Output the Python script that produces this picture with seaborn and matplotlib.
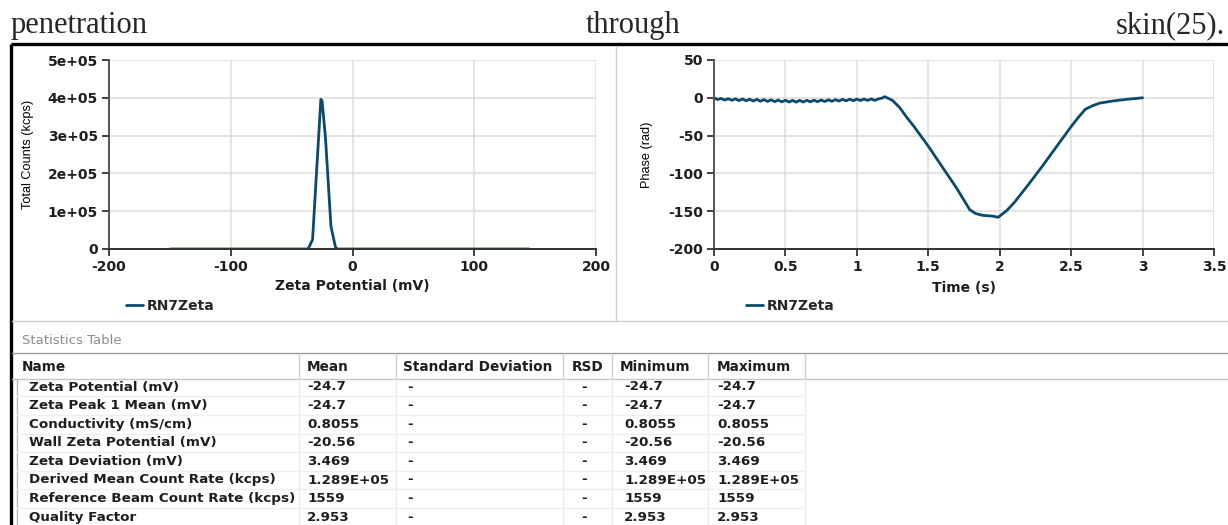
import matplotlib
matplotlib.use("Agg")
import matplotlib.pyplot as plt
import pandas as pd
import seaborn as sns

# --------------------------------------------------------------------------- #
# Data
# --------------------------------------------------------------------------- #

caption_words = ["penetration", "through", "skin(25)."]
series_name = "RN7Zeta"

# zeta potential distribution
zeta_mv = [-150, -100, -50, -36.5, -32.8, -26.0, -25.0, -22.2, -17.7, -14.0,
           -12.5, 0, 50, 100, 145]
zeta_kcps = [0, 0, 0, 0, 2.5e4, 3.96e5, 3.92e5, 2.95e5, 6.0e4, 5.0e3,
             0, 0, 0, 0, 0]

# phase plot
phase_time = [0.000, 0.025, 0.050, 0.075, 0.100, 0.125, 0.150, 0.175,
              0.200, 0.225, 0.250, 0.275, 0.300, 0.325, 0.350, 0.375,
              0.400, 0.425, 0.450, 0.475, 0.500, 0.525, 0.550, 0.575,
              0.600, 0.625, 0.650, 0.675, 0.700, 0.725, 0.750, 0.775,
              0.800, 0.825, 0.850, 0.875, 0.900, 0.925, 0.950, 0.975,
              1.000, 1.025, 1.050, 1.075, 1.100, 1.125, 1.150, 1.175,
              1.195, 1.25, 1.30, 1.35, 1.40, 1.50, 1.60, 1.70, 1.79, 1.83,
              1.88, 1.95, 1.99, 2.05, 2.10, 2.20, 2.30, 2.40, 2.50, 2.55,
              2.60, 2.65, 2.70, 2.80, 2.90, 3.00]
phase_rad = [0.0, -2.3, -0.9, -3.0, -1.2, -3.3, -1.4, -3.6,
             -1.6, -3.9, -1.9, -4.2, -2.1, -4.5, -2.4, -4.8,
             -2.7, -5.1, -3.0, -5.4, -3.2, -5.6, -3.4, -5.7,
             -3.4, -5.6, -3.3, -5.4, -3.1, -5.2, -2.9, -4.9,
             -2.6, -4.6, -2.4, -4.3, -2.1, -4.0, -1.9, -3.8,
             -1.7, -3.6, -1.6, -3.5, -1.5, -3.4, -1.5, -0.5,
             1.5, -3.5, -13, -26, -38, -64, -92, -120, -148, -153,
             -155.5, -156.5, -158, -149, -139, -115, -90, -64, -38, -26,
             -15, -10.5, -7, -4, -1.8, 0]

zeta_xticks = [-200, -100, 0, 100, 200]
zeta_xtick_labels = ["-200", "-100", "0", "100", "200"]
zeta_yticks = [0, 1e5, 2e5, 3e5, 4e5, 5e5]
zeta_ytick_labels = ["0", "1e+05", "2e+05", "3e+05", "4e+05", "5e+05"]
phase_xticks = [0, 0.5, 1, 1.5, 2, 2.5, 3, 3.5]
phase_xtick_labels = ["0", "0.5", "1", "1.5", "2", "2.5", "3", "3.5"]
phase_yticks = [-200, -150, -100, -50, 0, 50]
phase_ytick_labels = ["-200", "-150", "-100", "-50", "0", "50"]

# statistics table
stat_columns = ["Name", "Mean", "Standard Deviation", "RSD", "Minimum", "Maximum"]
stat_names = ["Zeta Potential (mV)", "Zeta Peak 1 Mean (mV)", "Conductivity (mS/cm)",
              "Wall Zeta Potential (mV)", "Zeta Deviation (mV)",
              "Derived Mean Count Rate (kcps)", "Reference Beam Count Rate (kcps)",
              "Quality Factor"]
stat_mean = ["-24.7", "-24.7", "0.8055", "-20.56", "3.469", "1.289E+05", "1559", "2.953"]
stat_sd = ["-", "-", "-", "-", "-", "-", "-", "-"]
stat_rsd = ["-", "-", "-", "-", "-", "-", "-", "-"]
stat_min = ["-24.7", "-24.7", "0.8055", "-20.56", "3.469", "1.289E+05", "1559", "2.953"]
stat_max = ["-24.7", "-24.7", "0.8055", "-20.56", "3.469", "1.289E+05", "1559", "2.953"]

# --------------------------------------------------------------------------- #
# Style
# --------------------------------------------------------------------------- #

W, H = 1228, 525
LINE = "#0b4a6b"
GRID = "#dcdcdc"
TEXT = "#1e1e1e"

sns.set_theme(style="whitegrid")
plt.rcParams["font.family"] = ["DejaVu Sans"]
NARROW = ["Liberation Sans", "DejaVu Sans"]


def style_axes(ax, xticks, xlabels, yticks, ylabels):
    ax.set_xticks(xticks, xlabels, fontweight="bold", color=TEXT, fontsize=10)
    ax.set_yticks(yticks, ylabels, fontweight="bold", color=TEXT, fontsize=10)
    ax.grid(True, color=GRID, linewidth=1.1)
    ax.spines["top"].set_visible(False)
    ax.spines["right"].set_visible(False)
    ax.spines["left"].set_color("#555555")
    ax.spines["bottom"].set_color("#333333")
    ax.spines["left"].set_linewidth(1.4)
    ax.spines["bottom"].set_linewidth(1.4)
    ax.tick_params(axis="both", direction="out", length=5, width=1.3,
                   color="#333333", pad=3, left=True, bottom=True)
    ax.set_facecolor("white")


def add_legend(ax, fx):
    ax.legend(loc="center left", bbox_to_anchor=(fx, -0.302), frameon=False,
              borderaxespad=0, borderpad=0, handlelength=1.2, handletextpad=0.3,
              prop={"weight": "bold", "size": 10})


# --------------------------------------------------------------------------- #
# Figure
# --------------------------------------------------------------------------- #

fig = plt.figure(figsize=(W / 100, H / 100), dpi=100)
fig.patch.set_facecolor("white")

# pixel-space background for caption, frame and table
bg = fig.add_axes([0, 0, 1, 1])
bg.set_xlim(0, W)
bg.set_ylim(H, 0)
bg.axis("off")

serif = ["Liberation Serif", "DejaVu Serif"]
bg.text(11, 33, caption_words[0], family=serif, fontsize=22, va="baseline", ha="left")
bg.text(633, 33, caption_words[1], family=serif, fontsize=22, va="baseline", ha="center")
bg.text(1225, 33, caption_words[2], family=serif, fontsize=22, va="baseline", ha="right")

# screenshot frame
bg.plot([11, W], [44, 44], color="black", lw=2.4, solid_capstyle="butt")
bg.plot([11, 11], [44, H], color="black", lw=2.4, solid_capstyle="butt")
bg.plot([616, 616], [46, 320], color="#cfcfcf", lw=1)
bg.plot([12, W], [321, 321], color="#cfcfcf", lw=1)

# statistics table
bg.text(22, 340, "Statistics Table", fontsize=9.5, color="#8c8c8c", va="center")
bg.plot([12, W], [353, 353], color="#9c9c9c", lw=1)
bg.plot([12, W], [379, 379], color="#c4c4c4", lw=1)
col_x = [22, 307, 403, 572, 620, 717]
sep_x = [299, 396, 563, 612, 708, 805]
for x in sep_x:
    bg.plot([x, x], [354, 378], color="#d0d0d0", lw=1)
for x, name in zip(col_x, stat_columns):
    bg.text(x, 367, name, fontsize=9.8, fontweight="bold", color=TEXT, va="center")

row_y = [387 + 18.6 * i for i in range(len(stat_names))]
bg.plot([17, 17], [379, H], color="#b8b8b8", lw=1)
for x in sep_x:
    bg.plot([x, x], [379, H], color="#ececec", lw=1)
for y in row_y:
    bg.plot([17, 805], [y + 9.3, y + 9.3], color="#efefef", lw=1)

cell_x = [29, 307, 407, 581, 624, 717]
columns = [stat_names, stat_mean, stat_sd, stat_rsd, stat_min, stat_max]
for x, values in zip(cell_x, columns):
    for y, v in zip(row_y, values):
        bg.text(x, y, v, fontsize=9.7, fontweight="bold", color=TEXT, va="center")

# left chart: zeta potential distribution
ax1 = fig.add_axes([109 / W, 1 - 249 / H, 487 / W, 189 / H])
zeta_df = pd.DataFrame({"zeta": zeta_mv, "counts": zeta_kcps})
sns.lineplot(data=zeta_df, x="zeta", y="counts", ax=ax1, color=LINE,
             linewidth=2.0, estimator=None, label=series_name)
ax1.set_xlim(-200, 200)
ax1.set_ylim(0, 5e5)
style_axes(ax1, zeta_xticks, zeta_xtick_labels, zeta_yticks, zeta_ytick_labels)
ax1.set_xlabel("Zeta Potential (mV)", fontsize=10, fontweight="bold", color=TEXT, va="top")
ax1.set_ylabel("Total Counts (kcps)", fontsize=9.2, family=NARROW, color="#000000")
ax1.xaxis.set_label_coords(0.5, -0.158)
ax1.yaxis.set_label_coords(-0.154, 0.5)
add_legend(ax1, 0.035)

# right chart: phase
ax2 = fig.add_axes([714 / W, 1 - 249 / H, 500 / W, 189 / H])
phase_df = pd.DataFrame({"time": phase_time, "phase": phase_rad})
sns.lineplot(data=phase_df, x="time", y="phase", ax=ax2, color=LINE,
             linewidth=2.0, estimator=None, label=series_name)
ax2.set_xlim(0, 3.5)
ax2.set_ylim(-200, 50)
style_axes(ax2, phase_xticks, phase_xtick_labels, phase_yticks, phase_ytick_labels)
ax2.set_xlabel("Time (s)", fontsize=10, fontweight="bold", color=TEXT, va="top")
ax2.set_ylabel("Phase (rad)", fontsize=9.2, family=NARROW, color="#000000")
ax2.xaxis.set_label_coords(0.5, -0.168)
ax2.yaxis.set_label_coords(-0.122, 0.5)
add_legend(ax2, 0.064)

fig.savefig("out.png", dpi=100)
